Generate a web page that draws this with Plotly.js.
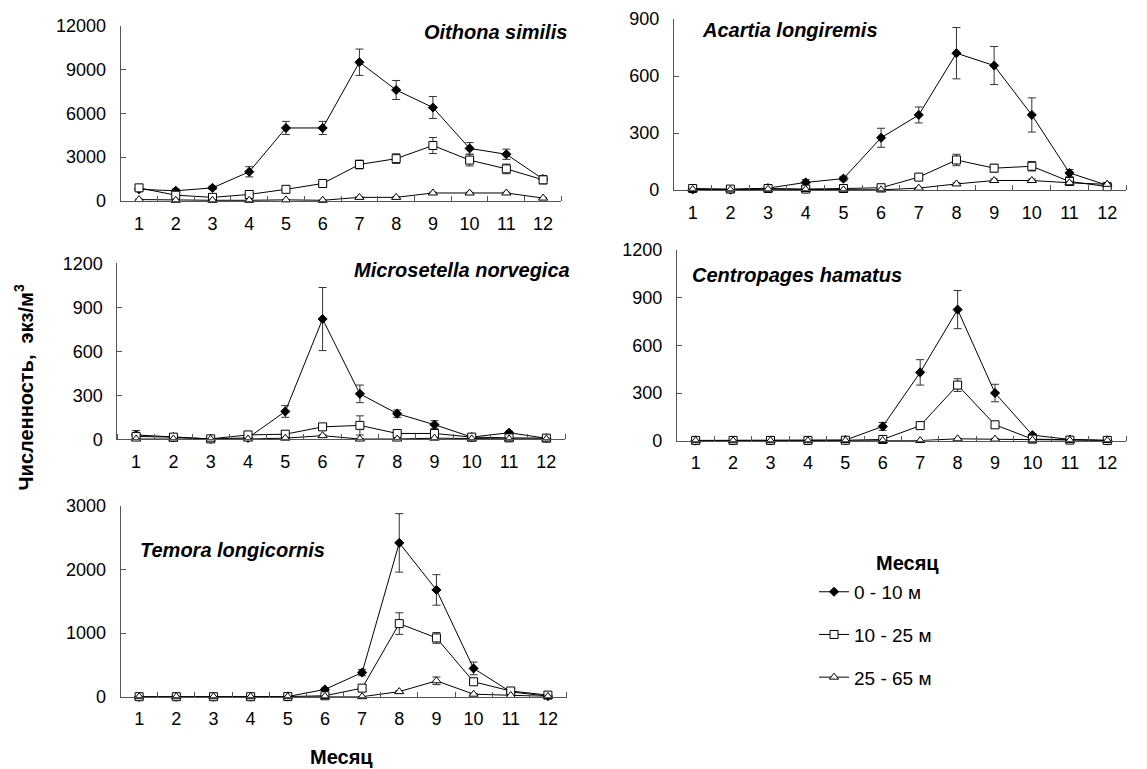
<!DOCTYPE html>
<html>
<head>
<meta charset="utf-8">
<script src="https://cdn.plot.ly/plotly-3.0.1.min.js"></script>
<style>
  html, body { margin: 0; padding: 0; background: #fff; }
  #chart { width: 1147px; height: 769px; }
</style>
</head>
<body>
<div id="chart"></div>
<script>
// Months of sampling
const months = [1, 2, 3, 4, 5, 6, 7, 8, 9, 10, 11, 12];
const depthLabels = ['0 - 10 м', '10 - 25 м', '25 - 65 м'];

// Oithona similis
const oithonaTop = [800, 700, 900, 2000, 5000, 5000, 9500, 7600, 6400, 3600, 3200, 1500];
const oithonaTopErr = [150, 120, 120, 350, 450, 450, 900, 650, 750, 400, 350, 250];
const oithonaMid = [900, 400, 250, 450, 800, 1200, 2500, 2900, 3800, 2800, 2200, 1450];
const oithonaMidErr = [120, 80, 60, 80, 100, 120, 300, 330, 550, 400, 330, 280];
const oithonaDeep = [100, 50, 50, 50, 80, 50, 250, 250, 550, 550, 550, 200];
const oithonaDeepErr = [30, 20, 20, 20, 20, 20, 40, 40, 50, 50, 50, 40];

// Acartia longiremis
const acartiaTop = [3, 2, 10, 40, 60, 275, 395, 720, 655, 395, 90, 25];
const acartiaTopErr = [3, 2, 4, 15, 12, 50, 42, 135, 100, 90, 18, 6];
const acartiaMid = [8, 5, 8, 5, 8, 12, 68, 158, 115, 125, 45, 18];
const acartiaMidErr = [3, 2, 3, 2, 3, 5, 10, 30, 20, 25, 10, 5];
const acartiaDeep = [3, 1, 4, 3, 1, 1, 10, 32, 50, 50, 38, 30];
const acartiaDeepErr = [1, 1, 1, 1, 1, 1, 3, 6, 8, 8, 6, 5];

// Microsetella norvegica
const microsetellaTop = [30, 15, 2, 10, 190, 820, 310, 175, 100, 15, 45, 7];
const microsetellaTopErr = [30, 8, 2, 5, 40, 215, 60, 25, 27, 6, 10, 3];
const microsetellaMid = [20, 15, 3, 30, 35, 85, 95, 40, 40, 15, 10, 8];
const microsetellaMidErr = [8, 5, 2, 8, 8, 20, 65, 10, 15, 5, 5, 3];
const microsetellaDeep = [2, 2, 1, 2, 8, 25, 2, 2, 8, 3, 3, 2];
const microsetellaDeepErr = [1, 1, 1, 1, 3, 5, 1, 1, 3, 1, 1, 1];

// Centropages hamatus
const centropagesTop = [1, 1, 1, 1, 4, 90, 430, 825, 300, 35, 8, 2];
const centropagesTopErr = [1, 1, 1, 1, 2, 25, 80, 120, 55, 8, 3, 1];
const centropagesMid = [2, 2, 2, 2, 3, 8, 95, 350, 100, 10, 4, 2];
const centropagesMidErr = [1, 1, 1, 1, 1, 3, 20, 40, 8, 3, 2, 1];
const centropagesDeep = [0, 0, 0, 0, 1, 1, 1, 12, 10, 4, 2, 1];
const centropagesDeepErr = [0, 0, 0, 0, 0, 0, 0, 3, 3, 1, 1, 0];

// Temora longicornis
const temoraTop = [0, 0, 0, 0, 3, 115, 380, 2420, 1680, 445, 75, 10];
const temoraTopErr = [0, 0, 0, 0, 2, 20, 50, 460, 240, 100, 15, 3];
const temoraMid = [0, 0, 0, 0, 2, 15, 135, 1150, 925, 235, 90, 25];
const temoraMidErr = [0, 0, 0, 0, 1, 5, 15, 170, 85, 20, 10, 5];
const temoraDeep = [0, 0, 0, 0, 0, 5, 0, 80, 250, 40, 20, 5];
const temoraDeepErr = [0, 0, 0, 0, 0, 2, 0, 15, 60, 10, 5, 2];

const FONT = '"Liberation Sans", Arial, sans-serif';
const AXIS_COLOR = '#555';

const markerStyles = [
  { symbol: 'diamond', size: 7, color: '#000', line: { color: '#000', width: 1 } },
  { symbol: 'square', size: 8, color: '#fff', line: { color: '#000', width: 1 } },
  { symbol: 'triangle-up', size: 8, color: '#fff', line: { color: '#000', width: 1 } }
];

const panels = [
  { name: 'Oithona similis', series: [oithonaTop, oithonaMid, oithonaDeep],
    errors: [oithonaTopErr, oithonaMidErr, oithonaDeepErr], ymax: 12000, dtick: 3000 },
  { name: 'Acartia longiremis', series: [acartiaTop, acartiaMid, acartiaDeep],
    errors: [acartiaTopErr, acartiaMidErr, acartiaDeepErr], ymax: 900, dtick: 300 },
  { name: 'Microsetella norvegica', series: [microsetellaTop, microsetellaMid, microsetellaDeep],
    errors: [microsetellaTopErr, microsetellaMidErr, microsetellaDeepErr], ymax: 1200, dtick: 300 },
  { name: 'Centropages hamatus', series: [centropagesTop, centropagesMid, centropagesDeep],
    errors: [centropagesTopErr, centropagesMidErr, centropagesDeepErr], ymax: 1200, dtick: 300 },
  { name: 'Temora longicornis', series: [temoraTop, temoraMid, temoraDeep],
    errors: [temoraTopErr, temoraMidErr, temoraDeepErr], ymax: 3000, dtick: 1000 }
];

// Plot-area boxes in paper coordinates
const domains = [
  { x: [0.1052, 0.4895], y: [0.7386, 0.9666] },
  { x: [0.5875, 0.9817], y: [0.7529, 0.9753] },
  { x: [0.1024, 0.4926], y: [0.4287, 0.6576] },
  { x: [0.5902, 0.9817], y: [0.4269, 0.6749] },
  { x: [0.1051, 0.4939], y: [0.0940, 0.3420] }
];

// Species label placement
const labelPos = [
  { x: 0.4961, y: 0.9588, anchor: 'right' },
  { x: 0.6103, y: 0.9610, anchor: 'left' },
  { x: 0.4984, y: 0.6489, anchor: 'right' },
  { x: 0.6016, y: 0.6424, anchor: 'left' },
  { x: 0.1203, y: 0.2848, anchor: 'left' }
];

const traces = [];
const layout = {
  width: 1147,
  height: 769,
  margin: { l: 0, r: 0, t: 0, b: 0 },
  paper_bgcolor: '#fff',
  plot_bgcolor: 'rgba(0,0,0,0)',
  font: { family: FONT, size: 18, color: '#000' },
  showlegend: true,
  legend: {
    x: 0.7097, y: 0.2550, xanchor: 'left', yanchor: 'top',
    font: { family: FONT, size: 19, color: '#000' },
    bgcolor: 'rgba(0,0,0,0)', borderwidth: 0,
    tracegroupgap: 15, traceorder: 'grouped'
  },
  annotations: []
};

panels.forEach((p, i) => {
  const n = i + 1;
  const xa = 'x' + (n === 1 ? '' : n);
  const ya = 'y' + (n === 1 ? '' : n);
  p.series.forEach((vals, s) => {
    traces.push({
      type: 'scatter',
      mode: 'lines+markers',
      x: months,
      y: vals,
      xaxis: xa,
      yaxis: ya,
      name: depthLabels[s],
      legendgroup: 'g' + s,
      showlegend: i === 0,
      cliponaxis: false,
      line: { color: '#000', width: 1 },
      marker: markerStyles[s],
      error_y: { type: 'data', array: p.errors[s], visible: true, color: '#333', thickness: 1, width: 4 },
      hoverinfo: 'x+y'
    });
  });

  layout['xaxis' + (n === 1 ? '' : n)] = {
    domain: domains[i].x,
    anchor: ya,
    range: [0.5, 12.5],
    tickmode: 'array',
    tickvals: months,
    ticktext: months.map(String),
    ticks: '',
    ticklabelstandoff: 6,
    tickfont: { family: FONT, size: 18, color: '#000' },
    showline: true, linecolor: AXIS_COLOR, linewidth: 1,
    showgrid: false, zeroline: false,
    minor: { tickmode: 'linear', tick0: 0.5, dtick: 1, ticks: 'inside', ticklen: 5,
             tickcolor: AXIS_COLOR, tickwidth: 1, showgrid: false },
    fixedrange: true
  };
  layout['yaxis' + (n === 1 ? '' : n)] = {
    domain: domains[i].y,
    anchor: xa,
    range: [0, p.ymax],
    tick0: 0,
    dtick: p.dtick,
    tickformat: 'd',
    exponentformat: 'none',
    ticks: 'inside', ticklen: 5, tickcolor: AXIS_COLOR, tickwidth: 1,
    ticklabelstandoff: 10,
    tickfont: { family: FONT, size: 18, color: '#000' },
    showline: true, linecolor: AXIS_COLOR, linewidth: 1,
    showgrid: false, zeroline: false,
    fixedrange: true
  };

  layout.annotations.push({
    text: '<b><i>' + p.name + '</i></b>',
    xref: 'paper', yref: 'paper',
    x: labelPos[i].x, y: labelPos[i].y,
    xanchor: labelPos[i].anchor, yanchor: 'middle',
    showarrow: false,
    font: { family: FONT, size: 20, color: '#000' }
  });
});

// Axis titles
layout.annotations.push(
  { text: '<b>Месяц</b>', xref: 'paper', yref: 'paper', x: 0.2973, y: 0.0156,
    xanchor: 'center', yanchor: 'middle', showarrow: false,
    font: { family: FONT, size: 20, color: '#000' } },
  { text: '<b>Месяц</b>', xref: 'paper', yref: 'paper', x: 0.7908, y: 0.2679,
    xanchor: 'center', yanchor: 'middle', showarrow: false,
    font: { family: FONT, size: 20, color: '#000' } },
  { text: '<b>Численность,\u00a0 экз/м<sup>3</sup></b>', xref: 'paper', yref: 'paper',
    x: 0.0209, y: 0.4961, xanchor: 'center', yanchor: 'middle', textangle: -90,
    showarrow: false, font: { family: FONT, size: 20, color: '#000' } }
);

Plotly.newPlot('chart', traces, layout, { displayModeBar: false, staticPlot: true });
</script>
</body>
</html>
